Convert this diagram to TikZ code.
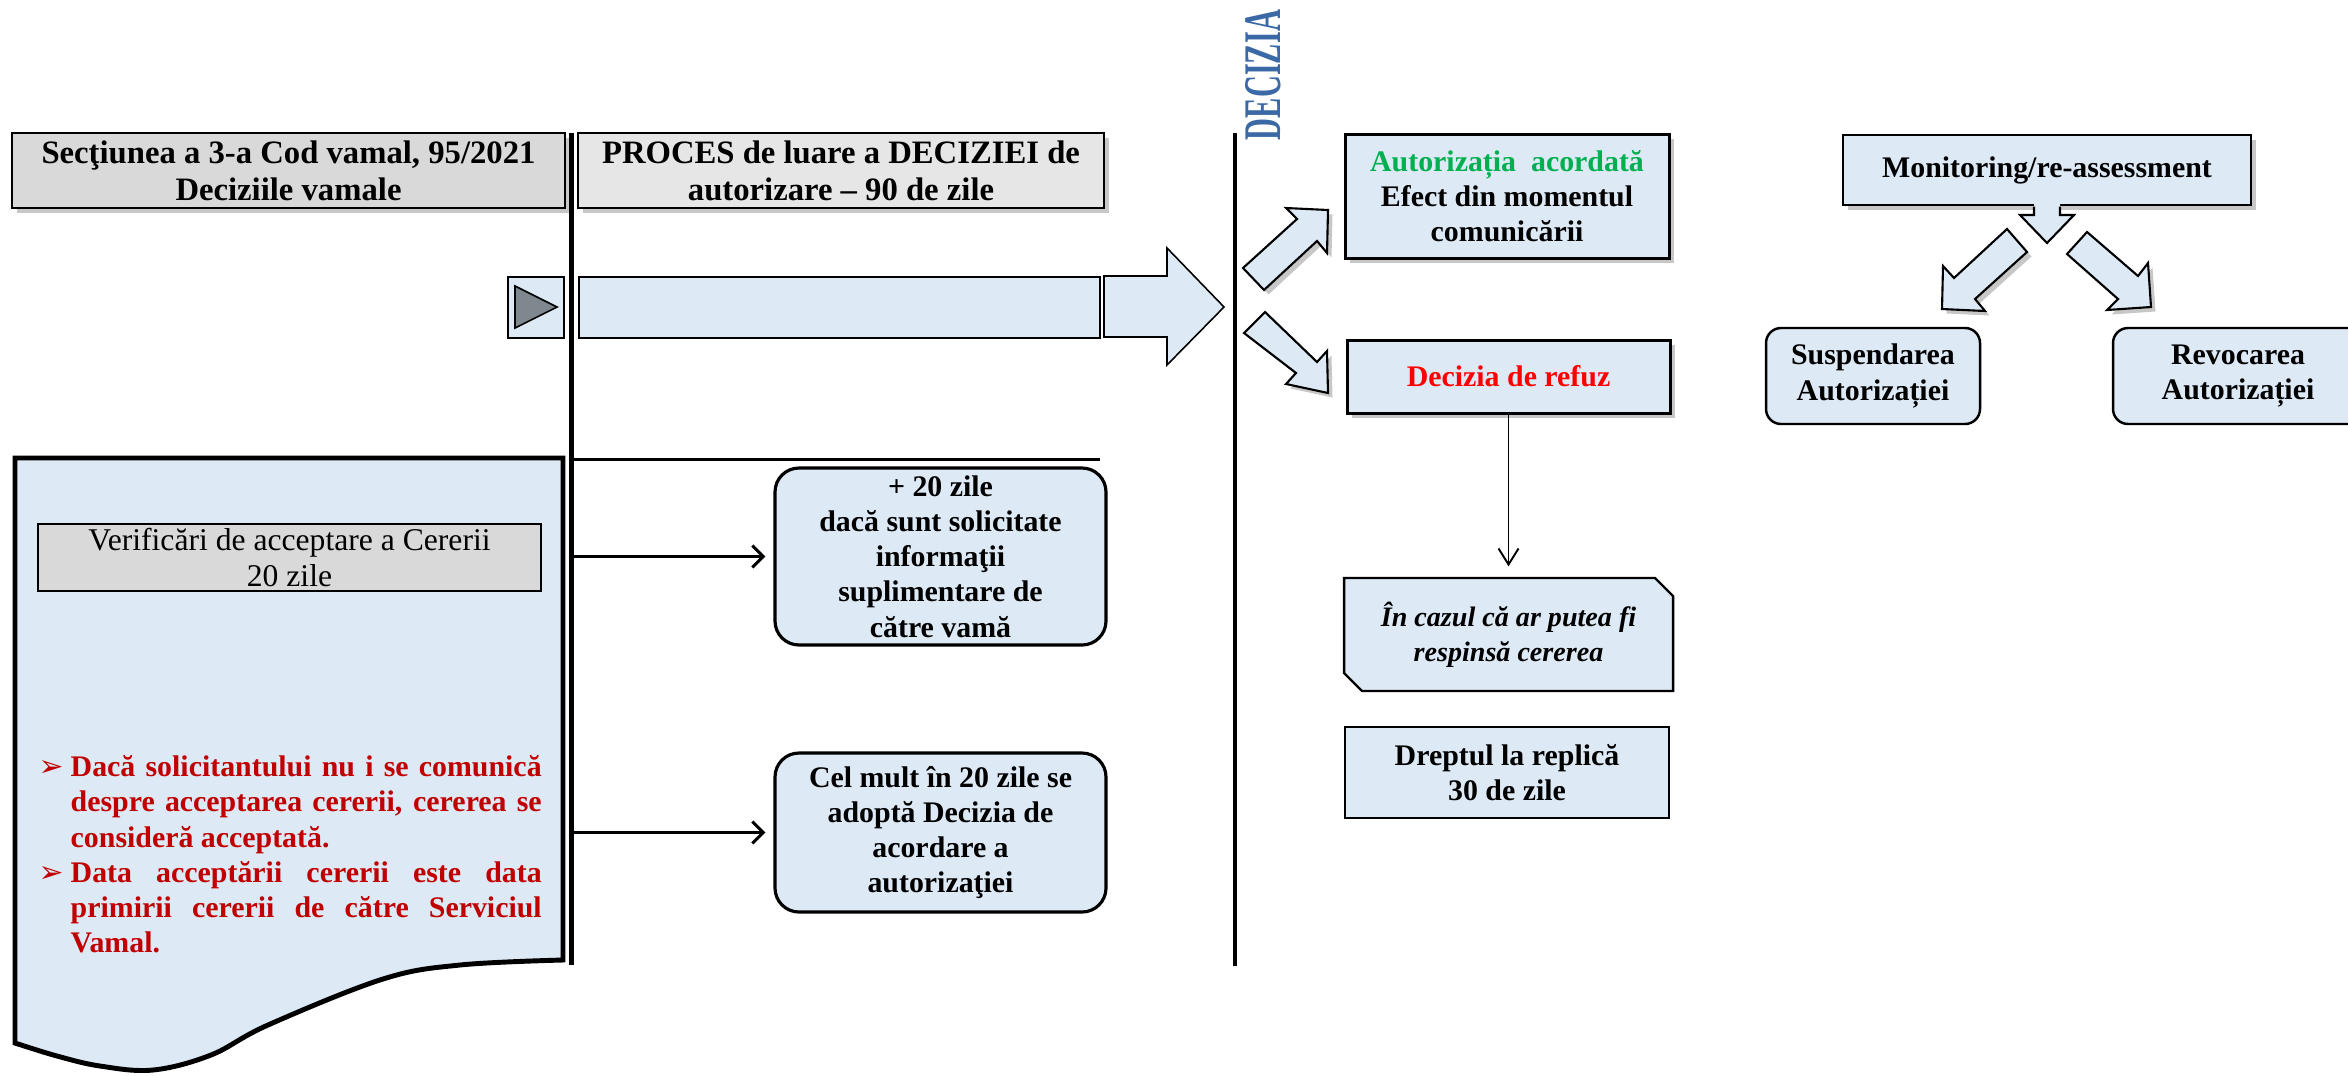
\documentclass[tikz,border=0pt]{standalone}
\usepackage{graphicx}
\usepackage{fontspec}
\setmainfont{Liberation Serif}
\newfontfamily\symfont{DejaVu Sans}
\usetikzlibrary{arrows.meta,calc}
\definecolor{lblue}{RGB}{221,233,245}
\definecolor{hgray}{RGB}{217,217,217}
\definecolor{hgrayb}{RGB}{230,230,230}
\definecolor{tgray}{RGB}{127,135,143}
\definecolor{dred}{RGB}{192,0,0}
\definecolor{agreen}{RGB}{0,176,80}
\definecolor{dblue}{RGB}{58,105,165}
\begin{document}
\begin{tikzpicture}[x=0.1mm,y=-0.1mm,
  shadowed/.style={preaction={draw=none,fill=black,fill opacity=0.22,transform canvas={xshift=0.45mm,yshift=-0.45mm}}},
  base/.style={inner sep=0pt,align=center,font=\fontsize{8.5pt}{10pt}\selectfont\bfseries},
  hdr/.style={base,font=\fontsize{9.3pt}{10.6pt}\selectfont\bfseries,draw=black,line width=0.6pt,shadowed},
  bluebox/.style={base,draw=black,fill=lblue,line width=0.8pt},
  rbox/.style={bluebox,rounded corners=2.4mm,line width=0.9pt},
  conn/.style={line width=0.85pt,-{Straight Barb[length=1.1mm,width=2.2mm]}},
  thinconn/.style={line width=0.55pt,-{Straight Barb[length=1.6mm,width=2.0mm]}},
  blockarrow/.style={fill=lblue,draw=black,line width=0.6pt,line join=miter}
]
\useasboundingbox (0,0) rectangle (2348,1075);

% document shape (left)
\filldraw[fill=lblue,draw=black,line width=1.4pt,line join=miter]
  (15,458) -- (563,458) -- (563,960) -- plot[smooth,tension=0.6] coordinates
  {(563,960) (460,965) (383,979) (268,1025) (211,1055) (153,1070) (100,1066) (57,1056) (15,1043)} -- cycle;

% lines
\coordinate (v1t) at (571.5,133); \coordinate (v1b) at (571.5,965);
\coordinate (v2t) at (1234.5,133); \coordinate (v2b) at (1234.5,966);
\coordinate (hla) at (573,459); \coordinate (hlb) at (1100,459);
\draw[line width=1.28pt] (v1t) -- (v1b);
\draw[line width=1.14pt] (v2t) -- (v2b);
\draw[line width=0.85pt] (hla) -- (hlb);

% headers
\node[hdr,fill=hgray,minimum width=55.3mm,minimum height=7.5mm] (h1) at (288.5,170.5)
  {Secţiunea a 3-a Cod vamal, 95/2021\\Deciziile vamale};
\node[hdr,fill=hgrayb,minimum width=52.6mm,minimum height=7.5mm] (h2) at (841,170.5)
  {PROCES de luare a DECIZIEI de\\autorizare – 90 de zile};

% timeline bar
\node[bluebox,line width=0.5pt,minimum width=5.6mm,minimum height=6.1mm] (sq) at (536,307.5) {};
\filldraw[fill=tgray,draw=black,line width=0.45pt] (515,286) -- (515,328) -- (557,307) -- cycle;
\node[bluebox,line width=0.6pt,minimum width=52.1mm,minimum height=6.1mm] (bar) at (839.5,307.5) {};
\filldraw[blockarrow,line width=0.45pt] (1104,276) -- (1167,276) -- (1167,248) -- (1224,307)
  -- (1167,365) -- (1167,337) -- (1104,337) -- cycle;

% DECIZIA
\node[rotate=90,inner sep=0pt,text=dblue] (dec) at (1263,75) {\resizebox{13mm}{3.5mm}{\bfseries DECIZIA}};

% bent arrows at decision line
\filldraw[blockarrow,shadowed] (1243,268) -- (1297,219) -- (1286,208) -- (1328,210) -- (1327,253)
  -- (1317,241) -- (1264,290) -- cycle;
\filldraw[blockarrow,shadowed] (1244,333) -- (1265,312) -- (1317,362) -- (1327,351) -- (1328,393)
  -- (1286,384) -- (1296,373) -- cycle;

% decision boxes
\node[bluebox,shadowed,line width=0.85pt,minimum width=32.4mm,minimum height=12.4mm] (auth) at (1507,196)
  {\textcolor{agreen}{Autorizația~ acordată}\\Efect din momentul\\comunicării};
\node[bluebox,shadowed,line width=0.85pt,minimum width=32.3mm,minimum height=7.3mm,text=red] (refuz) at (1508.5,376.5)
  {Decizia de refuz};
\filldraw[fill=lblue,draw=black,line width=0.7pt] (1344,578) -- (1655,578) -- (1673,596) -- (1673,691)
  -- (1362,691) -- (1344,673) -- cycle;
\node[base,font=\fontsize{8pt}{10pt}\selectfont\bfseries\itshape,minimum width=32.9mm,minimum height=11.3mm] (cazul) at (1508.5,634.5)
  {În cazul că ar putea fi\\respinsă cererea};
\node[bluebox,line width=0.6pt,minimum width=32.4mm,minimum height=9.1mm] (drept) at (1507,772.5)
  {Dreptul la replică\\30 de zile};
\draw[thinconn,shorten >=1.1mm] (refuz.south) -- (cazul.north);

% monitoring
\node[bluebox,shadowed,line width=0.75pt,minimum width=40.8mm,minimum height=7mm] (mon) at (2047,170)
  {Monitoring/re-assessment};
\fill[lblue] (2034,202.5) -- (2034,215) -- (2020,215) -- (2047,243) -- (2074,215) -- (2060,215) -- (2060,202.5) -- cycle;
\draw[line width=0.6pt,line join=miter] (2034,206.5) -- (2034,215) -- (2020,215) -- (2047,243) -- (2074,215) -- (2060,215) -- (2060,206.5);
\filldraw[blockarrow,shadowed] (2007,229) -- (2027,252) -- (1975,299) -- (1985,311) -- (1942,309)
  -- (1943,266) -- (1954,278) -- cycle;
\filldraw[blockarrow,shadowed] (2087,232) -- (2067,254) -- (2118,299) -- (2107,310) -- (2151,307)
  -- (2148,263) -- (2138,276) -- cycle;
\node[rbox,rounded corners=1.5mm,line width=0.7pt,minimum width=21.4mm,minimum height=9.6mm] (susp) at (1873,376)
  {Suspendarea\\Autorizației};
\node[rbox,rounded corners=1.5mm,line width=0.7pt,minimum width=25mm,minimum height=9.6mm] (revo) at (2238,376)
  {Revocarea\\Autorizației};

% left process boxes
\node[base,font=\fontsize{9pt}{10.5pt}\selectfont,draw=black,fill=hgray,line width=0.55pt,minimum width=50.3mm,minimum height=6.7mm] (verif) at (289.5,557.5)
  {Verificări de acceptare a Cererii\\20 zile};
\node[inner sep=0pt,anchor=north west,text width=50.3mm,align=justify,text=dred,
  font=\fontsize{8.5pt}{10pt}\selectfont\bfseries] (bul) at (38,755)
  {\hyphenpenalty=10000\exhyphenpenalty=10000
   \hangindent=3.2mm\hangafter=1\noindent\makebox[3.2mm][l]{\symfont\fontsize{8.5pt}{10pt}\selectfont ➢}Dacă solicitantului nu i se comunică despre acceptarea cererii, cererea se consideră acceptată.\par
   \hangindent=3.2mm\hangafter=1\noindent\makebox[3.2mm][l]{\symfont\fontsize{8.5pt}{10pt}\selectfont ➢}Data acceptării cererii este data primirii cererii de către Serviciul Vamal.\par};

\node[rbox,minimum width=33.1mm,minimum height=17.7mm] (plus20) at (940.5,556.5)
  {+ 20 zile\\dacă sunt solicitate\\informaţii\\suplimentare de\\către vamă};
\node[rbox,minimum width=33.1mm,minimum height=15.9mm] (celmult) at (940.5,832.5)
  {Cel mult în 20 zile se\\adoptă Decizia de\\acordare a\\autorizaţiei};
\coordinate (a1) at (573,556.5);
\coordinate (a2) at (573,832.5);
\draw[conn,shorten >=0.8mm] (a1) -- (plus20.west);
\draw[conn,shorten >=0.8mm] (a2) -- (celmult.west);
\end{tikzpicture}
\end{document}
